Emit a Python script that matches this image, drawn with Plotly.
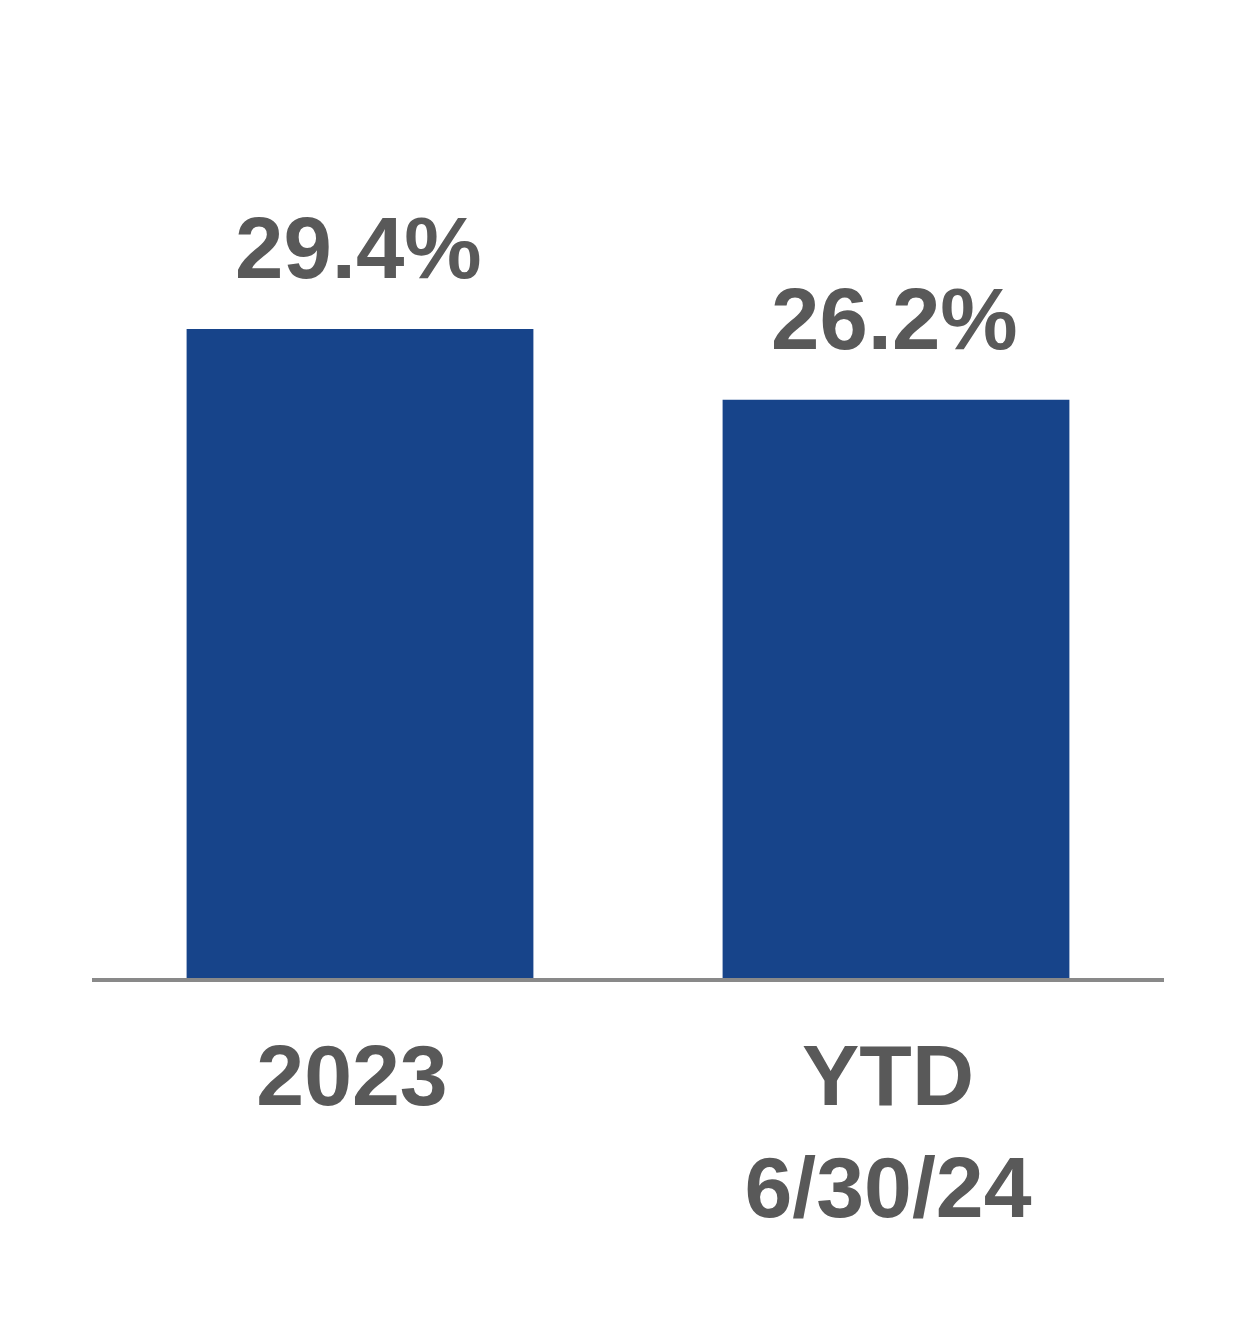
import plotly.graph_objects as go

categories = ["2023", "YTD<br>6/30/24"]
values = [29.4, 26.2]
value_labels = ["29.4%", "26.2%"]

bar_color = "#17448A"
text_color = "#595959"
font_family = "Liberation Sans, Arial, sans-serif"

fig = go.Figure(
    go.Bar(
        x=categories,
        y=values,
        marker=dict(color=bar_color, line=dict(width=0)),
        width=0.647,
        hoverinfo="skip",
    )
)

for i, (v, t) in enumerate(zip(values, value_labels)):
    fig.add_annotation(
        x=i, y=v, xref="x", yref="y", text=f"<b>{t}</b>", showarrow=False,
        yanchor="bottom", yshift=31, xshift=-2,
        font=dict(family=font_family, size=87, color=text_color),
    )

fig.update_layout(
    width=1254, height=1326,
    margin=dict(l=84, r=98, t=87, b=356),
    paper_bgcolor="white", plot_bgcolor="white",
    showlegend=False,
    xaxis=dict(
        type="category", range=[-0.5, len(categories) - 0.5],
        showline=True, linecolor="#898989", linewidth=4,
        showgrid=False, zeroline=False, ticks="",
        tickfont=dict(family=font_family, size=86, color=text_color, weight="bold"),
        ticklabelstandoff=20, ticklabelshift=-8,
    ),
    yaxis=dict(visible=False, range=[0, 40]),
)

fig.write_html("out.html")
